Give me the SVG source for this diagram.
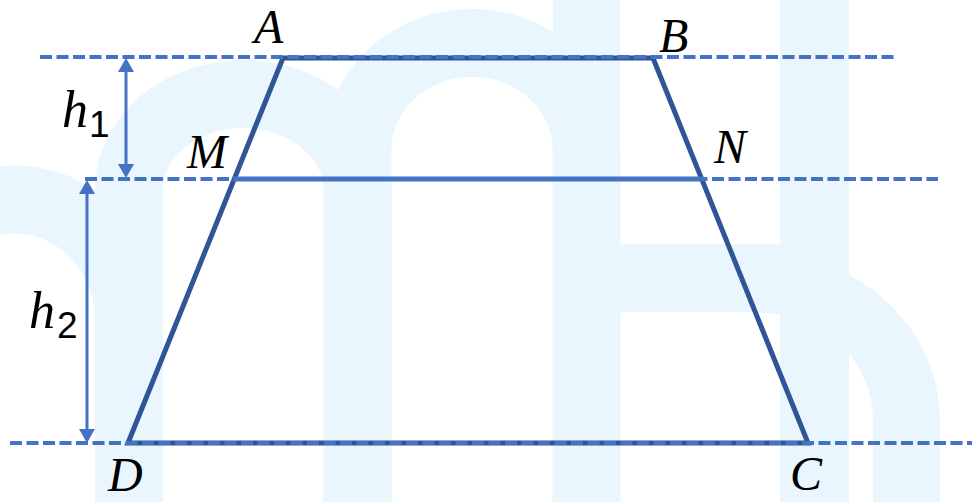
<svg xmlns="http://www.w3.org/2000/svg" width="972" height="502" viewBox="0 0 972 502">
  <defs>
    <style>
      .wm { fill: none; stroke: #EAF6FD; stroke-width: 68; }
      .wmf { fill: #EAF6FD; stroke: none; }
      .guide { fill: none; stroke: #4472C4; stroke-width: 4; stroke-dasharray: 12 4.5; }
      .edge { fill: none; stroke: #2F5597; stroke-width: 5; stroke-linejoin: miter; }
      .mn { fill: none; stroke: #4472C4; stroke-width: 5; }
      .dim { fill: none; stroke: #4472C4; stroke-width: 3; }
      .pt { font-family: "Liberation Serif", "DejaVu Serif", serif; font-style: italic; font-size: 48px; fill: #000; }
      .hv { font-family: "Liberation Serif", "DejaVu Serif", serif; font-style: italic; font-size: 52px; fill: #000; }
      .sub { font-family: "Liberation Sans", "DejaVu Sans", sans-serif; font-size: 37px; fill: #000; }
    </style>
    <marker id="head" viewBox="0 0 14 16" refX="0" refY="8" markerWidth="14" markerHeight="16" markerUnits="userSpaceOnUse" orient="auto-start-reverse">
      <path d="M0,0 L14,8 L0,16 Z" fill="#4472C4"/>
    </marker>
  </defs>

  <rect x="0" y="0" width="972" height="502" fill="#FFFFFF"/>

  <g id="watermark">
    <path class="wm" d="M-100,502 V320 A114 120 0 0 1 129,320 V502"/>
    <path class="wm" d="M129,502 V190 A114.25 96 0 0 1 357.5,190 V502"/>
    <path class="wm" d="M357.5,502 V150 A114.5 107 0 0 1 586.5,150 V502"/>
    <rect class="wmf" x="553" y="0" width="67" height="502"/>
    <rect class="wmf" x="780" y="0" width="69" height="502"/>
    <rect class="wmf" x="618" y="244" width="164" height="68"/>
    <path class="wmf" d="M760,253 A180 167 0 0 1 940,420 V502 H873 V420 A113 107 0 0 0 760,313 Z"/>
  </g>

  <g id="trapezoid">
    <path class="edge" d="M128,443 L283,58 L653,58 L808,443 Z"/>
  </g>

  <g id="guides">
    <line class="guide" x1="40" y1="57" x2="895" y2="57"/>
    <line class="guide" x1="85" y1="179" x2="938" y2="179"/>
    <line class="guide" x1="10" y1="443" x2="972" y2="443"/>
  </g>

  <g id="segment-MN">
    <line class="mn" x1="233" y1="179" x2="703" y2="179"/>
  </g>

  <g id="connectors">
    <line class="dim" x1="126" y1="72" x2="126" y2="164" marker-start="url(#head)" marker-end="url(#head)"/>
    <line class="dim" x1="87" y1="194" x2="87" y2="429" marker-start="url(#head)" marker-end="url(#head)"/>
  </g>

  <g id="label-A"><text class="pt" x="254" y="43">A</text></g>
  <g id="label-B"><text class="pt" x="659" y="52">B</text></g>
  <g id="label-M"><text class="pt" x="187" y="168">M</text></g>
  <g id="label-N"><text class="pt" x="714" y="163">N</text></g>
  <g id="label-D"><text class="pt" x="108" y="491">D</text></g>
  <g id="label-C"><text class="pt" x="790" y="490">C</text></g>
  <g id="label-h1"><text class="hv" x="62" y="127">h</text><text class="sub" x="89" y="137">1</text></g>
  <g id="label-h2"><text class="hv" x="29" y="328">h</text><text class="sub" x="57" y="338">2</text></g>
</svg>
